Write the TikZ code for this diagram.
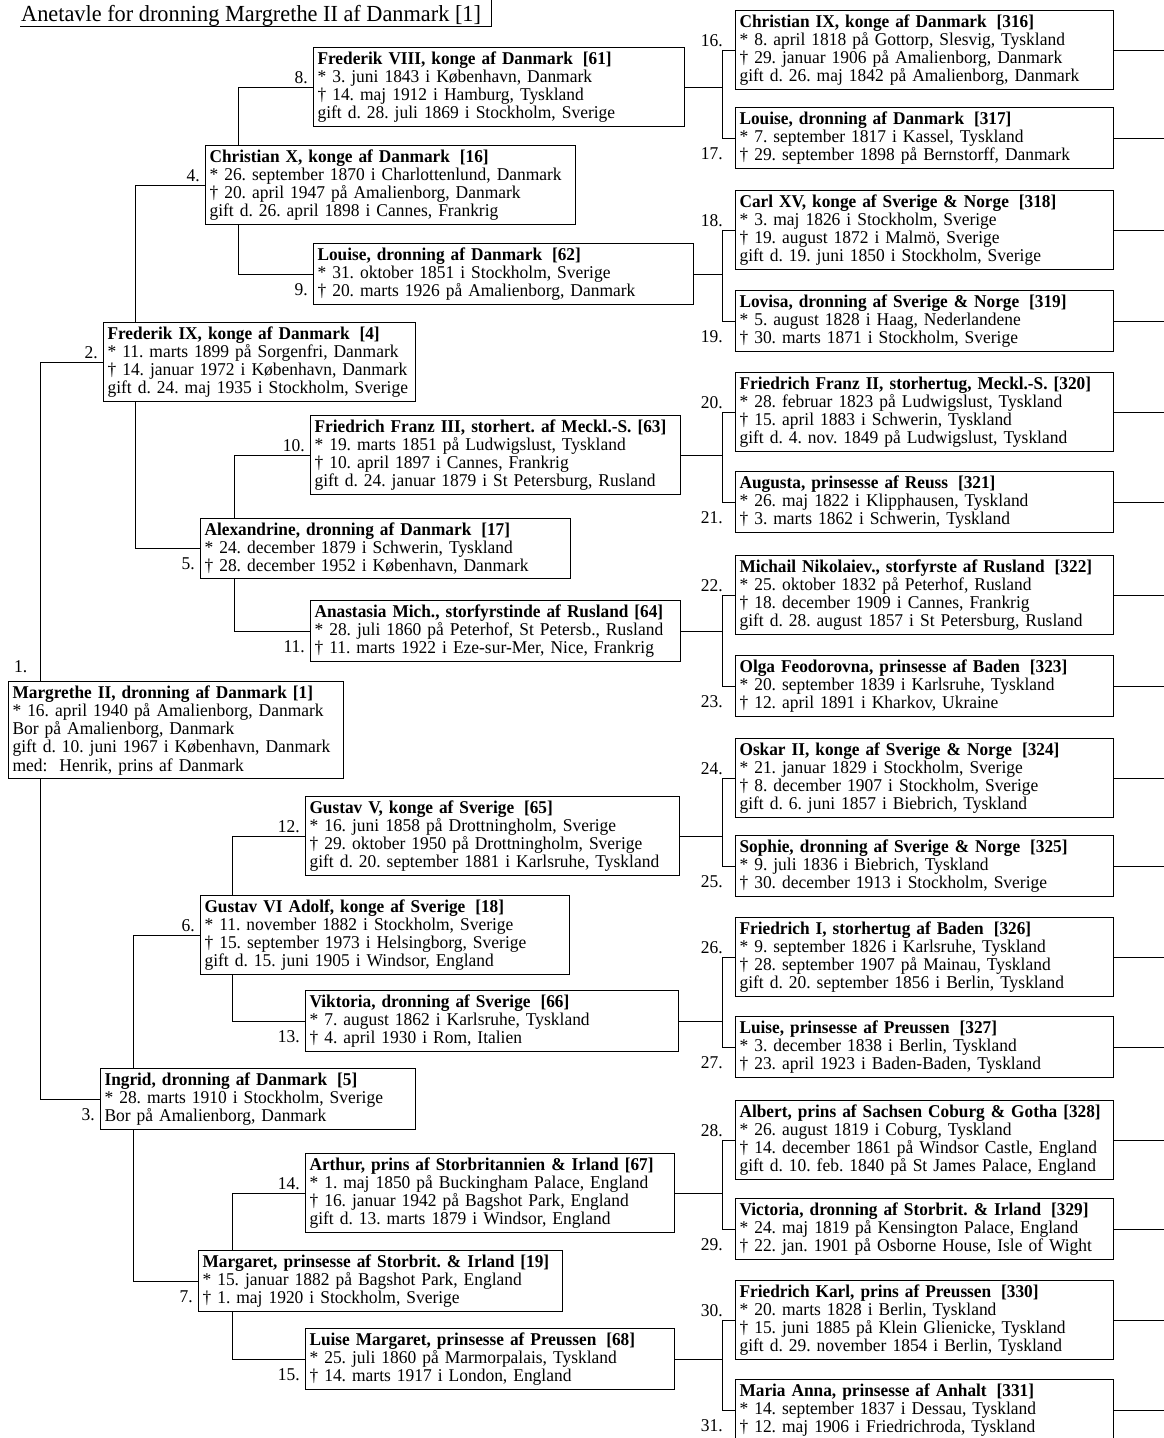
\documentclass[tikz,border=0pt]{standalone}
\usepackage{fontspec}
\setmainfont{Liberation Serif}[UprightFeatures={FakeStretch=0.97}, BoldFeatures={FakeStretch=0.96}]
\newcommand\gap{\hspace{0.55em}}
\newcommand\boxfont{\fontsize{18}{18.2}\selectfont\frenchspacing\hyphenpenalty10000\exhyphenpenalty10000\relax}
\begin{document}
\begin{tikzpicture}[x=1pt,y=-1pt,
  pbox/.style={draw, line width=1.1pt, anchor=north west, align=left, inner xsep=4pt, inner ysep=4pt, font=\boxfont},
  conn/.style={line width=1pt},
  lab/.style={inner sep=0pt, font=\fontsize{18}{18}\selectfont},
  ttl/.style={inner sep=0pt, anchor=base west, font=\fontsize{23}{24}\selectfont}]
\useasboundingbox[fill=white] (0,0) rectangle (1164,1438);
\coordinate (rim) at (1164,0);

% title
\node[ttl] (title) at (21,21) {Anetavle for dronning Margrethe II af Danmark [1]};
\draw[conn] ([xshift=-1pt,yshift=-5pt]title.base west) -- ([xshift=10pt,yshift=-5pt]title.base east) -- ([xshift=10pt,yshift=21pt]title.base east);

% generation 0
\node[pbox, text width=327pt] (b1) at (8,681) {\textbf{Margrethe II, dronning af Danmark [1]}\\{}* 16. april 1940 på Amalienborg, Danmark\\Bor på Amalienborg, Danmark\\gift d. 10. juni 1967 i København, Danmark\\med:\ \ Henrik, prins af Danmark};

% generation 1
\node[pbox, text width=304pt] (b2) at (103,322) {\textbf{Frederik IX, konge af Danmark\gap[4]}\\{}* 11. marts 1899 på Sorgenfri, Danmark\\† 14. januar 1972 i København, Danmark\\gift d. 24. maj 1935 i Stockholm, Sverige};
\node[pbox, text width=307pt] (b3) at (100,1068) {\textbf{Ingrid, dronning af Danmark\gap[5]}\\{}* 28. marts 1910 i Stockholm, Sverige\\Bor på Amalienborg, Danmark};

% generation 2
\node[pbox, text width=362pt] (b4) at (205,145) {\textbf{Christian X, konge af Danmark\gap[16]}\\{}* 26. september 1870 i Charlottenlund, Danmark\\† 20. april 1947 på Amalienborg, Danmark\\gift d. 26. april 1898 i Cannes, Frankrig};
\node[pbox, text width=362pt] (b5) at (200,518) {\textbf{Alexandrine, dronning af Danmark\gap[17]}\\{}* 24. december 1879 i Schwerin, Tyskland\\† 28. december 1952 i København, Danmark};
\node[pbox, text width=361pt] (b6) at (200,895) {\textbf{Gustav VI Adolf, konge af Sverige\gap[18]}\\{}* 11. november 1882 i Stockholm, Sverige\\† 15. september 1973 i Helsingborg, Sverige\\gift d. 15. juni 1905 i Windsor, England};
\node[pbox, text width=356pt] (b7) at (198,1250) {\textbf{Margaret, prinsesse af Storbrit. \& Irland [19]}\\{}* 15. januar 1882 på Bagshot Park, England\\† 1. maj 1920 i Stockholm, Sverige};

% generation 3
\node[pbox, text width=363pt] (b8) at (313,47) {\textbf{Frederik VIII, konge af Danmark\gap[61]}\\{}* 3. juni 1843 i København, Danmark\\† 14. maj 1912 i Hamburg, Tyskland\\gift d. 28. juli 1869 i Stockholm, Sverige};
\node[pbox, text width=372pt] (b9) at (313,243) {\textbf{Louise, dronning af Danmark\gap[62]}\\{}* 31. oktober 1851 i Stockholm, Sverige\\† 20. marts 1926 på Amalienborg, Danmark};
\node[pbox, text width=362pt] (b10) at (310,415) {\textbf{Friedrich Franz III, storhert. af Meckl.-S. [63]}\\{}* 19. marts 1851 på Ludwigslust, Tyskland\\† 10. april 1897 i Cannes, Frankrig\\gift d. 24. januar 1879 i St Petersburg, Rusland};
\node[pbox, text width=362pt] (b11) at (310,600) {\textbf{Anastasia Mich., storfyrstinde af Rusland [64]}\\{}* 28. juli 1860 på Peterhof, St Petersb., Rusland\\† 11. marts 1922 i Eze-sur-Mer, Nice, Frankrig};
\node[pbox, text width=366pt] (b12) at (305,796) {\textbf{Gustav V, konge af Sverige\gap[65]}\\{}* 16. juni 1858 på Drottningholm, Sverige\\† 29. oktober 1950 på Drottningholm, Sverige\\gift d. 20. september 1881 i Karlsruhe, Tyskland};
\node[pbox, text width=365pt] (b13) at (305,990) {\textbf{Viktoria, dronning af Sverige\gap[66]}\\{}* 7. august 1862 i Karlsruhe, Tyskland\\† 4. april 1930 i Rom, Italien};
\node[pbox, text width=361pt] (b14) at (305,1153) {\textbf{Arthur, prins af Storbritannien \& Irland [67]}\\{}* 1. maj 1850 på Buckingham Palace, England\\† 16. januar 1942 på Bagshot Park, England\\gift d. 13. marts 1879 i Windsor, England};
\node[pbox, text width=361pt] (b15) at (305,1328) {\textbf{Luise Margaret, prinsesse af Preussen\gap[68]}\\{}* 25. juli 1860 på Marmorpalais, Tyskland\\† 14. marts 1917 i London, England};

% generation 4
\node[pbox, text width=370pt] (b16) at (735,10) {\textbf{Christian IX, konge af Danmark\gap[316]}\\{}* 8. april 1818 på Gottorp, Slesvig, Tyskland\\† 29. januar 1906 på Amalienborg, Danmark\\gift d. 26. maj 1842 på Amalienborg, Danmark};
\node[pbox, text width=370pt] (b17) at (735,107) {\textbf{Louise, dronning af Danmark\gap[317]}\\{}* 7. september 1817 i Kassel, Tyskland\\† 29. september 1898 på Bernstorff, Danmark};
\node[pbox, text width=370pt] (b18) at (735,190) {\textbf{Carl XV, konge af Sverige \& Norge\gap[318]}\\{}* 3. maj 1826 i Stockholm, Sverige\\† 19. august 1872 i Malmö, Sverige\\gift d. 19. juni 1850 i Stockholm, Sverige};
\node[pbox, text width=370pt] (b19) at (735,290) {\textbf{Lovisa, dronning af Sverige \& Norge\gap[319]}\\{}* 5. august 1828 i Haag, Nederlandene\\† 30. marts 1871 i Stockholm, Sverige};
\node[pbox, text width=370pt] (b20) at (735,372) {\textbf{Friedrich Franz II, storhertug, Meckl.-S. [320]}\\{}* 28. februar 1823 på Ludwigslust, Tyskland\\† 15. april 1883 i Schwerin, Tyskland\\gift d. 4. nov. 1849 på Ludwigslust, Tyskland};
\node[pbox, text width=370pt] (b21) at (735,471) {\textbf{Augusta, prinsesse af Reuss\gap[321]}\\{}* 26. maj 1822 i Klipphausen, Tyskland\\† 3. marts 1862 i Schwerin, Tyskland};
\node[pbox, text width=370pt] (b22) at (735,555) {\textbf{Michail Nikolaiev., storfyrste af Rusland\gap[322]}\\{}* 25. oktober 1832 på Peterhof, Rusland\\† 18. december 1909 i Cannes, Frankrig\\gift d. 28. august 1857 i St Petersburg, Rusland};
\node[pbox, text width=370pt] (b23) at (735,655) {\textbf{Olga Feodorovna, prinsesse af Baden\gap[323]}\\{}* 20. september 1839 i Karlsruhe, Tyskland\\† 12. april 1891 i Kharkov, Ukraine};
\node[pbox, text width=370pt] (b24) at (735,738) {\textbf{Oskar II, konge af Sverige \& Norge\gap[324]}\\{}* 21. januar 1829 i Stockholm, Sverige\\† 8. december 1907 i Stockholm, Sverige\\gift d. 6. juni 1857 i Biebrich, Tyskland};
\node[pbox, text width=370pt] (b25) at (735,835) {\textbf{Sophie, dronning af Sverige \& Norge\gap[325]}\\{}* 9. juli 1836 i Biebrich, Tyskland\\† 30. december 1913 i Stockholm, Sverige};
\node[pbox, text width=370pt] (b26) at (735,917) {\textbf{Friedrich I, storhertug af Baden\gap[326]}\\{}* 9. september 1826 i Karlsruhe, Tyskland\\† 28. september 1907 på Mainau, Tyskland\\gift d. 20. september 1856 i Berlin, Tyskland};
\node[pbox, text width=370pt] (b27) at (735,1016) {\textbf{Luise, prinsesse af Preussen\gap[327]}\\{}* 3. december 1838 i Berlin, Tyskland\\† 23. april 1923 i Baden-Baden, Tyskland};
\node[pbox, text width=370pt] (b28) at (735,1100) {\textbf{Albert, prins af Sachsen Coburg \& Gotha [328]}\\{}* 26. august 1819 i Coburg, Tyskland\\† 14. december 1861 på Windsor Castle, England\\gift d. 10. feb. 1840 på St James Palace, England};
\node[pbox, text width=370pt] (b29) at (735,1198) {\textbf{Victoria, dronning af Storbrit. \& Irland\gap[329]}\\{}* 24. maj 1819 på Kensington Palace, England\\† 22. jan. 1901 på Osborne House, Isle of Wight};
\node[pbox, text width=370pt] (b30) at (735,1280) {\textbf{Friedrich Karl, prins af Preussen\gap[330]}\\{}* 20. marts 1828 i Berlin, Tyskland\\† 15. juni 1885 på Klein Glienicke, Tyskland\\gift d. 29. november 1854 i Berlin, Tyskland};
\node[pbox, text width=370pt] (b31) at (735,1379) {\textbf{Maria Anna, prinsesse af Anhalt\gap[331]}\\{}* 14. september 1837 i Dessau, Tyskland\\† 12. maj 1906 i Friedrichroda, Tyskland};

% connectors: left side (child -> parents)
\draw[conn] (b2.west) -| ([xshift=32pt]b1.north west);
\draw[conn] (b3.west) -| ([xshift=32pt]b1.south west);
\draw[conn] (b4.west) -| ([xshift=32pt]b2.north west);
\draw[conn] (b5.west) -| ([xshift=32pt]b2.south west);
\draw[conn] (b6.west) -| ([xshift=33pt]b3.north west);
\draw[conn] (b7.west) -| ([xshift=33pt]b3.south west);
\draw[conn] (b8.west) -| ([xshift=33pt]b4.north west);
\draw[conn] (b9.west) -| ([xshift=33pt]b4.south west);
\draw[conn] (b10.west) -| ([xshift=34pt]b5.north west);
\draw[conn] (b11.west) -| ([xshift=34pt]b5.south west);
\draw[conn] (b12.west) -| ([xshift=32pt]b6.north west);
\draw[conn] (b13.west) -| ([xshift=32pt]b6.south west);
\draw[conn] (b14.west) -| ([xshift=34pt]b7.north west);
\draw[conn] (b15.west) -| ([xshift=34pt]b7.south west);

% connectors: generation 3 -> generation 4
\foreach \p/\f/\m in {8/16/17, 9/18/19, 10/20/21, 11/22/23, 12/24/25, 13/26/27, 14/28/29, 15/30/31}{
  \draw[conn] (b\p.east) -| ([xshift=-13pt]b\f.west) -- (b\f.west);
  \draw[conn] (b\p.east) -| ([xshift=-13pt]b\m.west) -- (b\m.west);
}
% right-hand continuation lines
\foreach \k in {16,...,31}{
  \draw[conn] (b\k.east) -- (b\k.east -| rim);
}

% number labels
\node[lab, anchor=south west] (n1) at ([xshift=6pt,yshift=8pt]b1.north west) {1.};
\foreach \k in {2,4,6,8,10,12,14}{
  \node[lab, anchor=south east] (n\k) at ([xshift=-5pt,yshift=3pt]b\k.west) {\k.};
}
\foreach \k in {3,5,7,9,11,13,15}{
  \node[lab, anchor=north east] (n\k) at ([xshift=-5pt,yshift=-9pt]b\k.west) {\k.};
}
\foreach \k in {16,18,...,30}{
  \node[lab, anchor=south east] (n\k) at ([xshift=-12pt,yshift=3pt]b\k.west) {\k.};
}
\foreach \k in {17,19,...,31}{
  \node[lab, anchor=north east] (n\k) at ([xshift=-12pt,yshift=-9pt]b\k.west) {\k.};
}
\end{tikzpicture}
\end{document}
